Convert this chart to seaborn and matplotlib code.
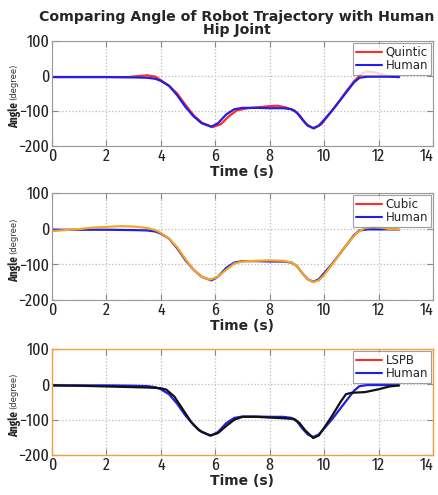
import pandas as pd
import numpy as np
import matplotlib
matplotlib.use("Agg")
import matplotlib.pyplot as plt
import seaborn as sns
from matplotlib.lines import Line2D

# human hip joint angle
human_t = [0, 1, 2, 3, 3.5, 3.8, 4.0, 4.3, 4.6, 4.9, 5.2, 5.5, 5.85, 6.1, 6.4, 6.7, 7.0, 7.5,
           8.0, 8.5, 8.8, 9.0, 9.2, 9.4, 9.6, 9.8, 10.0, 10.3, 10.6, 10.9, 11.1, 11.3, 11.6,
           12.0, 12.4, 12.75]
human_y = [-3, -3, -3, -4, -5, -8, -14, -28, -55, -88, -115, -135, -145, -135, -110, -95, -91, -91,
           -92, -92, -95, -105, -125, -142, -149, -142, -125, -98, -68, -38, -18, -5, -2,
           -2, -2, -3]

quintic_t = [0, 1, 2, 2.8, 3.2, 3.5, 3.8, 4.0, 4.3, 4.6, 4.9, 5.2, 5.5, 5.9, 6.2, 6.5, 6.8, 7.2,
             7.6, 8.0, 8.3, 8.6, 8.9, 9.1, 9.35, 9.62, 9.9, 10.2, 10.5, 10.8, 11.1, 11.4, 11.6,
             11.9, 12.2, 12.5, 12.75]
quintic_y = [-3, -3, -3, -3, 0, 2, -2, -12, -28, -50, -82, -112, -133, -146, -138, -115, -98, -92,
             -89, -86, -85, -90, -98, -112, -138, -150, -138, -108, -78, -45, -15, 8, 13,
             10, 2, -2, -3]

cubic_t = [0, 0.5, 1, 1.5, 2, 2.5, 3, 3.5, 3.8, 4.0, 4.3, 4.6, 4.9, 5.2, 5.5, 5.8, 6.1, 6.4, 6.7,
           7.0, 7.5, 8.0, 8.5, 8.8, 9.0, 9.2, 9.4, 9.6, 9.8, 10.0, 10.3, 10.6, 10.9, 11.2, 11.5,
           11.8, 12.1, 12.4, 12.75]
cubic_y = [-7, -4, -1, 3, 5, 7, 6, 2, -4, -12, -28, -52, -85, -115, -135, -143, -135, -115, -98,
           -92, -90, -89, -90, -95, -105, -125, -142, -150, -145, -130, -100, -68, -38, -12, 2,
           5, 3, -1, -3]

lspb_t = [0, 1, 2, 3, 3.5, 4.0, 4.2, 4.5, 4.8, 5.1, 5.4, 5.8, 6.1, 6.4, 6.7, 7.0, 7.5, 8.0, 8.5,
          8.9, 9.1, 9.3, 9.6, 9.8, 10.0, 10.3, 10.6, 10.8, 11.0, 11.5, 12.0, 12.4, 12.75]
lspb_y = [-3, -4, -6, -8, -9, -11, -15, -35, -70, -105, -130, -145, -138, -118, -100, -92, -92, -94,
          -96, -98, -110, -130, -152, -145, -123, -88, -50, -28, -24, -22, -14, -6, -3]

panels = [
    ("Quintic", quintic_t, quintic_y, "#ff2a2a", False),
    ("Cubic", cubic_t, cubic_y, "#f5a623", True),
    ("LSPB", lspb_t, lspb_y, "#111111", True),
]

sns.set_theme(style="whitegrid")
plt.rcParams["font.family"] = ["DejaVu Sans"]
narrow = ["Fira Sans Extra Condensed", "DejaVu Sans"]

fig = plt.figure(figsize=(4.38, 4.95), dpi=100)
boxes = [(52, 41, 146), (52, 193, 300), (52, 349, 455)]
W, H = 438, 495

for i, ((name, tt, yy, col, on_top), (left, top, bot)) in enumerate(zip(panels, boxes)):
    ax = fig.add_axes([left / W, 1 - bot / H, 381 / W, (bot - top) / H])
    df = pd.concat([
        pd.DataFrame({"t": human_t, "angle": human_y, "series": "Human"}),
        pd.DataFrame({"t": tt, "angle": yy, "series": name}),
    ])
    order = ["Human", name] if on_top else [name, "Human"]
    sns.lineplot(data=df, x="t", y="angle", hue="series", hue_order=order,
                 palette={"Human": "#1f1fe6", name: col}, sort=False, estimator=None,
                 linewidth=1.6, legend=False, ax=ax)
    ax.set_xlim(0, 14)
    ax.set_ylim(-200, 100)
    ax.set_xticks(range(0, 15, 2))
    ax.set_yticks([-200, -100, 0, 100])
    ax.grid(True, linestyle=":", color="#bbbbbb", linewidth=0.9)
    ax.tick_params(direction="in", length=4, width=0.8, color="#888888", pad=2,
                   top=True, right=True, bottom=True, left=True, labelcolor="#222222")
    for lab in ax.get_xticklabels() + ax.get_yticklabels():
        lab.set_family(narrow)
        lab.set_fontsize(12.5)
    ax.get_xticklabels()[-1].set_horizontalalignment("right")
    spine_col = "#f0a040" if i == 2 else "#999999"
    for s in ax.spines.values():
        s.set_color(spine_col)
        s.set_linewidth(1.0 if i == 2 else 0.8)
    ax.set_xlabel("Time (s)", fontsize=10, fontweight="bold", labelpad=0)
    ax.set_ylabel("")
    # y label: bold "Angle" with small "(degree)"
    fig.text(18 / W, 1 - (bot - 18) / H, "Angle", rotation=90, rotation_mode="anchor",
             ha="left", va="baseline", fontsize=8.5, fontweight="bold", family=narrow)
    fig.text(16.5 / W, 1 - (bot - 46) / H, "(degree)", rotation=90, rotation_mode="anchor",
             ha="left", va="baseline", fontsize=6, color="#333333")
    handles = [Line2D([], [], color="#ff2a2a", lw=1.5), Line2D([], [], color="#1f1fe6", lw=1.5)]
    leg = ax.legend(handles, [name, "Human"], loc="upper right", bbox_to_anchor=(1.0, 1.0),
                    borderaxespad=0.15, fontsize=8.5, frameon=True, fancybox=False,
                    handlelength=2.2, handletextpad=0.3, labelspacing=0.05,
                    borderpad=0.25)
    leg.get_frame().set_edgecolor("#888888")
    leg.get_frame().set_linewidth(0.8)
    if i == 0:
        ax.set_title("Comparing Angle of Robot Trajectory with Human\nHip Joint",
                     fontsize=10.2, fontweight="bold", pad=5, linespacing=0.95,
                     x=(236.5 - left) / 381)

fig.savefig("out.png", dpi=100)
